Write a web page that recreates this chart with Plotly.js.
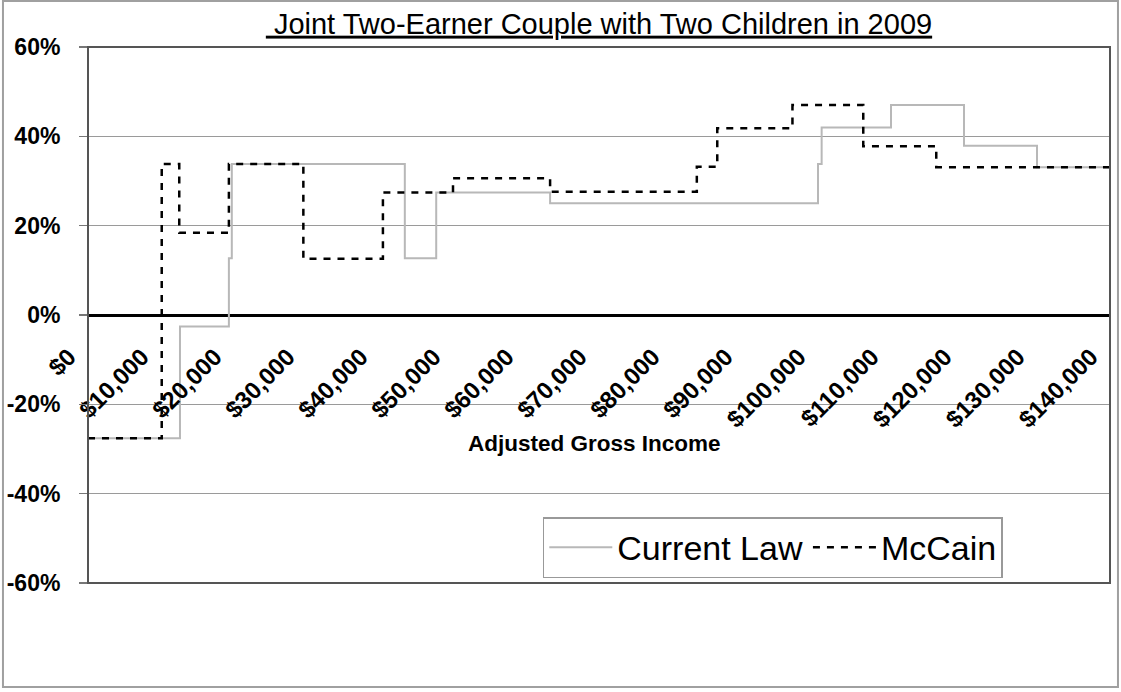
<!DOCTYPE html>
<html>
<head>
<meta charset="utf-8">
<script src="https://cdn.plot.ly/plotly-3.0.1.min.js"></script>
<style>
  html, body { margin: 0; padding: 0; background: #ffffff; }
  #chart { width: 1121px; height: 692px; }
</style>
</head>
<body>
<div id="chart"></div>
<script>
// Effective marginal rate (%) by adjusted gross income; each income is where a rate begins.
const currentLawIncome = [0, 12600, 19300, 19700, 43400, 47700, 63300, 100000, 100500, 110000, 120000, 130000, 140000];
const currentLawRate   = [-27.6, -2.6, 12.7, 33.8, 12.7, 27.4, 25.0, 33.8, 42.0, 47.0, 37.9, 33.1, 33.1];

const mccainIncome = [0, 10100, 12500, 19300, 29500, 40400, 50000, 63300, 83400, 86200, 96500, 106200, 116200, 140000];
const mccainRate   = [-27.6, 33.8, 18.4, 33.8, 12.6, 27.4, 30.6, 27.6, 33.2, 41.8, 47.0, 37.8, 33.1, 33.1];

const incomeTicks = [0, 10000, 20000, 30000, 40000, 50000, 60000, 70000, 80000, 90000, 100000, 110000, 120000, 130000, 140000];
const incomeTickLabels = ['$0', '$10,000', '$20,000', '$30,000', '$40,000', '$50,000', '$60,000', '$70,000',
                          '$80,000', '$90,000', '$100,000', '$110,000', '$120,000', '$130,000', '$140,000'];

const rateTicks = [-60, -40, -20, 0, 20, 40, 60];
const rateTickLabels = ['-60%', '-40%', '-20%', '0%', '20%', '40%', '60%'];

const FONT = 'Liberation Sans, Arial, sans-serif';

const traces = [
  {
    name: 'Current Law',
    x: currentLawIncome,
    y: currentLawRate,
    type: 'scatter',
    mode: 'lines',
    line: { shape: 'hv', color: '#b8b8b8', width: 2 }
  },
  {
    name: 'McCain',
    x: mccainIncome,
    y: mccainRate,
    type: 'scatter',
    mode: 'lines',
    line: { shape: 'hv', color: '#000000', width: 2.5, dash: '7px,7px' }
  }
];

const layout = {
  width: 1121,
  height: 692,
  paper_bgcolor: '#ffffff',
  plot_bgcolor: '#ffffff',
  margin: { l: 88, r: 11, t: 47, b: 109 },
  font: { family: FONT, color: '#000000' },
  title: {
    text: '<u>&nbsp;Joint Two-Earner Couple with Two Children in 2009</u>',
    xref: 'paper', x: 0.5, xanchor: 'center',
    yref: 'container', y: 0.966, yanchor: 'middle',
    font: { family: FONT, size: 29, color: '#000000' }
  },
  xaxis: {
    range: [0, 140000],
    anchor: 'free',
    position: 0.5,
    tickvals: incomeTicks,
    ticktext: incomeTickLabels,
    tickangle: -45,
    ticks: '',
    showgrid: false,
    zeroline: false,
    showline: false,
    ticklabelshift: -19,
    ticklabelstandoff: 22,
    tickfont: { family: FONT, size: 24, color: '#000000', weight: 'bold' }
  },
  yaxis: {
    range: [-60, 60],
    tickvals: rateTicks,
    ticktext: rateTickLabels,
    ticks: 'outside',
    ticklen: 8,
    tickwidth: 1.5,
    tickcolor: '#777777',
    showgrid: true,
    gridcolor: '#9a9a9a',
    gridwidth: 1.5,
    zeroline: true,
    zerolinecolor: '#000000',
    zerolinewidth: 3,
    showline: false,
    ticklabelstandoff: 14,
    tickfont: { family: FONT, size: 23, color: '#000000', weight: 'bold' }
  },
  legend: {
    orientation: 'h',
    x: 0.445, y: 0.123,
    xanchor: 'left', yanchor: 'top',
    bgcolor: '#ffffff',
    bordercolor: '#999999',
    borderwidth: 1.5,
    itemwidth: 63,
    font: { family: FONT, size: 34, color: '#000000' }
  },
  annotations: [
    {
      text: 'Adjusted Gross Income',
      xref: 'paper', yref: 'paper',
      x: 0.496, y: 0.261,
      xanchor: 'center', yanchor: 'middle',
      showarrow: false,
      font: { family: FONT, size: 22.5, color: '#000000', weight: 'bold' }
    }
  ],
  shapes: [
    // plot-area border
    {
      type: 'rect', xref: 'paper', yref: 'paper',
      x0: 0, x1: 1, y0: 0, y1: 1,
      line: { color: '#555555', width: 2 },
      layer: 'above'
    },
    // outer chart frame
    {
      type: 'rect', xref: 'paper', yref: 'paper',
      x0: -0.0832, x1: 1.0078, y0: -0.194, y1: 1.086,
      line: { color: '#a0a0a0', width: 2 },
      layer: 'below'
    }
  ],
  showlegend: true
};

Plotly.newPlot('chart', traces, layout, { displayModeBar: false, staticPlot: true });
</script>
</body>
</html>
